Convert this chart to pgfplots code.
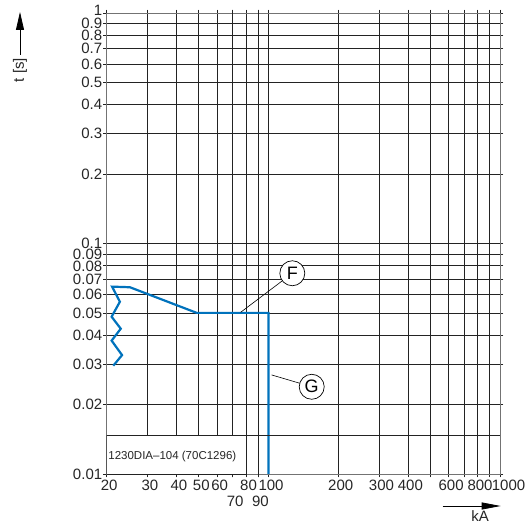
\documentclass[border=0pt]{standalone}
\usepackage{fontspec}
\setmainfont{Liberation Sans}
\usepackage{pgfplots}
\pgfplotsset{compat=1.18}
\usetikzlibrary{arrows.meta}
\definecolor{curveblue}{RGB}{0,114,188}
\definecolor{gridgray}{RGB}{35,35,35}
\begin{document}
\begin{tikzpicture}
\begin{axis}[
  at={(0pt,0pt)}, anchor=south west,
  scale only axis, width=393.3pt, height=461pt,
  xmode=log, ymode=log,
  xmin=20, xmax=1000, ymin=0.01, ymax=1,
  xtick={20,30,40,50,60,70,80,90,100,200,300,400,500,600,700,800,900,1000},
  xticklabels={20,30,40,50,60,,80,,100,200,300,400,,600,,800,,\hspace*{12pt}1000},
  extra x ticks={70,90},
  extra x tick labels={70,90},
  extra x tick style={xticklabel style={yshift=-16pt}},
  ytick={0.01,0.02,0.03,0.04,0.05,0.06,0.07,0.08,0.09,0.1,0.2,0.3,0.4,0.5,0.6,0.7,0.8,0.9,1},
  yticklabels={0.01,0.02,0.03,0.04,0.05,0.06,0.07,0.08,0.09,0.1,0.2,0.3,0.4,0.5,0.6,0.7,0.8,0.9,\raisebox{5pt}{1}},
  minor tick num=0,
  grid=major,
  major grid style={gridgray, line width=0.7pt},
  axis line style={black!55, line width=0.8pt},
  tick align=outside, major tick length=3.5pt,
  xtick style={gridgray, line width=0.7pt},
  ytick style={gridgray, line width=0.7pt},
  tick label style={font=\fontsize{15}{15}\selectfont, text=black!85},
  xticklabel style={xshift=2.5pt, yshift=1pt},
  yticklabel style={xshift=2.5pt, inner ysep=0pt},
]

% response curve
\addplot[curveblue, line width=2.2pt, line join=miter] coordinates {
  (21.35,0.0295) (23.3,0.0328) (21.0,0.0379) (23.0,0.0427) (21.0,0.0481)
  (22.8,0.0559) (21.1,0.0650) (25.2,0.0646) (49,0.05) (100,0.05) (100,0.01)
};

% label box in the lower left
\filldraw[fill=white, draw=gridgray, line width=0.7pt] (axis cs:20,0.01) rectangle (axis cs:80,0.0147);
\draw[gridgray, line width=0.7pt] (axis cs:80,0.0147) -- (axis cs:1000,0.0147);
\node[anchor=west, inner sep=0pt, font=\fontsize{11.5}{12}\selectfont, text=black!85]
  at (axis cs:20.3,0.0119) {1230DIA--104 (70C1296)};

% callouts
\draw[black, line width=0.6pt] (axis cs:75.8,0.0503) -- (axis cs:126.7,0.0743);
\node[circle, draw=black, line width=0.7pt, fill=white, minimum size=25pt, inner sep=0pt,
  font=\fontsize{18}{18}\selectfont] at (axis cs:126.7,0.0743) {F};
\draw[black, line width=0.6pt] (axis cs:103.2,0.0269) -- (axis cs:153.7,0.0239);
\node[circle, draw=black, line width=0.7pt, fill=white, minimum size=25pt, inner sep=0pt,
  font=\fontsize{18}{18}\selectfont] at (axis cs:153.7,0.0239) {G};
\end{axis}

% axis captions with arrows
\draw[line width=0.8pt, -{Triangle[length=18pt,width=8pt]}] (-86.7pt,419pt) -- (-86.7pt,462pt);
\node[rotate=90, font=\fontsize{15}{15}\selectfont, text=black!85] at (-86.7pt,404pt) {t [s]};
\draw[line width=0.8pt, -{Triangle[length=19pt,width=7pt]}] (336pt,-32pt) -- (394pt,-32pt);
\node[inner sep=0pt, font=\fontsize{15}{15}\selectfont, text=black!85] at (373.3pt,-42pt) {kA};

\pgfresetboundingbox
\useasboundingbox (-106.7pt,-50pt) rectangle (425.3pt,474pt);
\end{tikzpicture}
\end{document}
